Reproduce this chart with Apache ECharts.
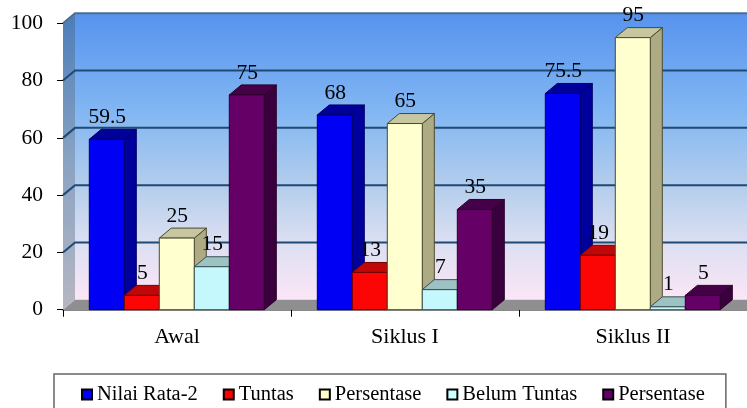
<!DOCTYPE html>
<html>
<head>
<meta charset="utf-8">
<style>html,body{margin:0;padding:0;background:#fff;overflow:hidden}#c{width:747px;height:408px}</style>
<script src="https://cdn.jsdelivr.net/npm/echarts@6/dist/echarts.min.js"></script>
</head>
<body>
<div id="c"></div>
<script>
var categories = ['Awal', 'Siklus I', 'Siklus II'];
var yTicks = [0, 20, 40, 60, 80, 100];
var nilaiRata = [59.5, 68, 75.5];
var tuntas = [5, 13, 19];
var persentaseTuntas = [25, 65, 95];
var belumTuntas = [15, 7, 1];
var persentaseBelum = [75, 35, 5];

var FONT = '"Liberation Serif", "Times New Roman", serif';
var DX = 12, DY = 10, BAR = 35, GROUP_GAP = 26.3;

var styles = [
  { name: 'Nilai Rata-2', legend: '#0000ff', data: nilaiRata, front: '#0000f4', side: '#00009c', top: '#00009a', stroke: '#000066' },
  { name: 'Tuntas', legend: '#ff0000', data: tuntas, front: '#fb0505', side: '#a00000', top: '#c00808', stroke: '#700000' },
  { name: 'Persentase', legend: '#ffffcc', data: persentaseTuntas, front: '#ffffcf', side: '#aeaa84', top: '#c6c6a0', stroke: '#4a4a30' },
  { name: 'Belum Tuntas', legend: '#ccffff', data: belumTuntas, front: '#c4f8fc', side: '#93b5b5', top: '#9cc2c4', stroke: '#3a5050' },
  { name: 'Persentase ', legend: '#660066', data: persentaseBelum, front: '#640066', side: '#3a003e', top: '#460048', stroke: '#2a002a' }
];

function poly(pts, fill, stroke, lw, z2) {
  return { type: 'polygon', shape: { points: pts }, z2: z2 || 0,
    style: { fill: fill, stroke: stroke || null, lineWidth: lw || 0 } };
}

function renderWalls(params, api) {
  var g = params.coordSys;
  var x0 = g.x, x1 = g.x + g.width + DX;
  var y0 = api.coord([0, 0])[1], y100 = api.coord([0, 100])[1];
  var kids = [];
  kids.push(poly([[x0 + DX, y100 - DY], [x1, y100 - DY], [x1, y0 - DY], [x0 + DX, y0 - DY]], {
    type: 'linear', x: 0, y: 0, x2: 0, y2: 1,
    colorStops: [
      { offset: 0, color: '#5793ee' }, { offset: 0.35, color: '#83b7f3' },
      { offset: 0.6, color: '#b3cdec' }, { offset: 0.8, color: '#dcdff2' }, { offset: 1, color: '#fbe6f6' }
    ]
  }));
  kids.push(poly([[x0, y100], [x0 + DX, y100 - DY], [x0 + DX, y0 - DY], [x0, y0]], {
    type: 'linear', x: 0, y: 0, x2: 0, y2: 1,
    colorStops: [{ offset: 0, color: '#4c7db8' }, { offset: 0.5, color: '#8aa3c2' }, { offset: 1, color: '#b6b6c2' }]
  }));
  kids.push(poly([[x0, y0], [x0 + DX, y0 - DY], [x1, y0 - DY], [x1 - DX, y0]], '#8f8f92'));
  yTicks.forEach(function (t) {
    if (t === 0) return;
    var y = api.coord([0, t])[1];
    var col = t === 100 ? '#4d6e92' : '#1f4a76';
    kids.push({ type: 'polyline', shape: { points: [[x0, y], [x0 + DX, y - DY], [x1, y - DY]] },
      style: { fill: null, stroke: col, lineWidth: 2 } });
  });
  return { type: 'group', children: kids };
}

function renderBar(sIdx) {
  return function (params, api) {
    var s = styles[sIdx];
    var c = api.value(0), v = api.value(1);
    var band = api.size([1, 0])[0];
    var left = api.coord([c, 0])[0] - band / 2 + GROUP_GAP + sIdx * BAR;
    var right = left + BAR;
    var base = api.coord([c, 0])[1], top = api.coord([c, v])[1];
    var st = s.stroke;
    return { type: 'group', children: [
      poly([[right, top], [right + DX, top - DY], [right + DX, base - DY], [right, base]], s.side, st, 1),
      poly([[left, top], [left + DX, top - DY], [right + DX, top - DY], [right, top]], s.top, st, 1),
      poly([[left, top], [right, top], [right, base], [left, base]], s.front, st, 1),
      { type: 'text', z2: 100, style: {
        x: left + BAR / 2 + 0.5, y: top - DY - 12, text: String(v), fill: '#000',
        font: '21.5px ' + FONT, align: 'center', verticalAlign: 'middle'
      } }
    ] };
  };
}

var series = [{
  type: 'custom', name: 'walls', coordinateSystem: 'cartesian2d', silent: true, clip: false, z: 1,
  data: [[0, 0]], renderItem: renderWalls, encode: { x: 0, y: 1 }
}];
styles.forEach(function (s, i) {
  series.push({
    type: 'custom', name: s.name, coordinateSystem: 'cartesian2d', clip: false, z: 2,
    itemStyle: { color: s.legend },
    data: s.data.map(function (v, k) { return [k, v]; }),
    encode: { x: 0, y: 1 }, renderItem: renderBar(i)
  });
});

var chart = echarts.init(document.getElementById('c'), null, { renderer: 'canvas' });
chart.setOption({
  animation: false,
  backgroundColor: '#fff',
  textStyle: { fontFamily: FONT },
  grid: { left: 63, right: 0, top: 23.3, bottom: 98.3, containLabel: false },
  xAxis: {
    type: 'category', data: categories,
    axisLine: { show: true, onZero: false, lineStyle: { color: '#8a8a8a', width: 2 } },
    axisTick: { show: true, length: 7, lineStyle: { color: '#000', width: 1 } },
    axisLabel: { color: '#000', fontFamily: FONT, fontSize: 22, margin: 17 },
    splitLine: { show: false }
  },
  yAxis: {
    type: 'value', min: 0, max: 100, interval: 20,
    axisLine: { show: false },
    axisTick: { show: true, length: 6, lineStyle: { color: '#000', width: 1 } },
    axisLabel: { color: '#000', fontFamily: FONT, fontSize: 21.5, margin: 20 },
    splitLine: { show: false }
  },
  legend: {
    show: true, orient: 'horizontal', left: 54, top: 374,
    padding: [10, 16, 16, 27],
    backgroundColor: '#fff', borderColor: '#666', borderWidth: 1.5,
    itemWidth: 10, itemHeight: 10, itemGap: 25, icon: 'rect',
    selectedMode: false,
    itemStyle: { borderColor: '#000', borderWidth: 2 },
    textStyle: { color: '#000', fontFamily: FONT, fontSize: 20.5, padding: 0 },
    data: styles.map(function (s) { return s.name; })
  },
  series: series
});
</script>
</body>
</html>
